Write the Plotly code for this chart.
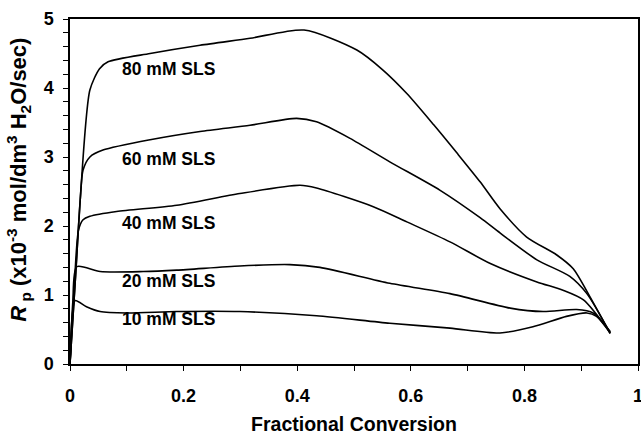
import plotly.graph_objects as go

# Fractional conversion / Rp data
x10 = [0, 0.003, 0.009, 0.029, 0.053, 0.1, 0.188, 0.299, 0.434, 0.563, 0.669, 0.757, 0.815, 0.874, 0.91, 0.927, 0.951]
y10 = [0, 0.6, 0.92, 0.83, 0.76, 0.74, 0.76, 0.76, 0.70, 0.59, 0.52, 0.45, 0.54, 0.69, 0.74, 0.69, 0.45]

x20 = [0, 0.005, 0.012, 0.053, 0.129, 0.188, 0.299, 0.387, 0.44, 0.563, 0.669, 0.775, 0.833, 0.892, 0.921, 0.951]
y20 = [0, 0.9, 1.41, 1.34, 1.34, 1.36, 1.42, 1.44, 1.40, 1.17, 1.02, 0.81, 0.76, 0.79, 0.74, 0.47]

x40 = [0, 0.008, 0.015, 0.023, 0.035, 0.082, 0.188, 0.299, 0.405, 0.434, 0.534, 0.593, 0.669, 0.739, 0.822, 0.868, 0.904, 0.951]
y40 = [0, 1.2, 1.94, 2.09, 2.14, 2.21, 2.30, 2.47, 2.59, 2.55, 2.28, 2.06, 1.77, 1.46, 1.19, 1.07, 0.93, 0.46]

x60 = [0, 0.01, 0.018, 0.023, 0.035, 0.058, 0.141, 0.229, 0.317, 0.399, 0.434, 0.493, 0.563, 0.651, 0.722, 0.757, 0.822, 0.880, 0.91, 0.951]
y60 = [0, 1.3, 2.38, 2.81, 3.0, 3.1, 3.25, 3.37, 3.46, 3.56, 3.51, 3.27, 2.93, 2.52, 2.12, 1.90, 1.51, 1.27, 1.02, 0.45]

x80 = [0, 0.01, 0.018, 0.035, 0.052, 0.067, 0.141, 0.229, 0.317, 0.412, 0.505, 0.551, 0.593, 0.64, 0.681, 0.722, 0.757, 0.804, 0.857, 0.886, 0.915, 0.951]
y80 = [0, 1.3, 2.38, 3.97, 4.28, 4.38, 4.50, 4.62, 4.72, 4.84, 4.55, 4.26, 3.92, 3.47, 3.06, 2.64, 2.25, 1.84, 1.58, 1.38, 0.98, 0.44]

series_names = ["10 mM SLS", "20 mM SLS", "40 mM SLS", "60 mM SLS", "80 mM SLS"]
label_y = [0.65, 1.20, 2.05, 2.97, 4.28]
label_x = 0.088

FONT = "Liberation Sans, Arial, sans-serif"

fig = go.Figure()
for name, xs, ys in zip(series_names, [x10, x20, x40, x60, x80], [y10, y20, y40, y60, y80]):
    fig.add_trace(go.Scatter(x=xs, y=ys, mode="lines", name=name,
                             line=dict(color="black", width=1.6, shape="spline", smoothing=0.7),
                             showlegend=False))

for name, ly in zip(series_names, label_y):
    fig.add_annotation(x=label_x, y=ly, text=name, showarrow=False, xanchor="left", yanchor="middle",
                       font=dict(family=FONT, size=17.5, color="black", weight="bold"))

# y-axis title placed as a rotated paper annotation (sits slightly above plot centre in the reference)
fig.add_annotation(xref="paper", yref="paper", x=-0.091, y=0.535, textangle=-90, showarrow=False,
                   xanchor="center", yanchor="middle",
                   text="<i>R</i><sub> p</sub> (x10<sup>-3</sup> mol/dm<sup>3</sup> H<sub>2</sub>O/sec)",
                   font=dict(family=FONT, size=22, color="black", weight="bold"))

axis_common = dict(showgrid=False, zeroline=False, showline=True, linecolor="black", linewidth=1.5,
                   mirror=True, ticks="outside", tickcolor="black", tickwidth=1.3, ticklen=5,
                   ticklabeloverflow="allow",
                   tickfont=dict(family=FONT, size=18, color="black", weight="bold"))

fig.update_xaxes(range=[0, 1], tickvals=[0, 0.2, 0.4, 0.6, 0.8, 1],
                 ticktext=["0", "0.2", "0.4", "0.6", "0.8", "1"],
                 minor=dict(dtick=0.1, tick0=0, ticks="outside", ticklen=5, tickcolor="black", tickwidth=1.3),
                 ticklabelstandoff=10,
                 title=dict(text="Fractional Conversion", standoff=27,
                            font=dict(family=FONT, size=19.5, color="black", weight="bold")),
                 **axis_common)
fig.update_yaxes(range=[0, 5], dtick=1, tick0=0,
                 minor=dict(dtick=0.2, tick0=0, ticks="outside", ticklen=5, tickcolor="black", tickwidth=1.3),
                 ticklabelstandoff=6,
                 **axis_common)

fig.update_layout(width=641, height=435, margin=dict(l=70, r=3, t=19, b=71, autoexpand=False),
                  plot_bgcolor="white", paper_bgcolor="white")

fig.write_html("out.html", config={"displayModeBar": False},
               post_script="document.body.style.margin='0';")
